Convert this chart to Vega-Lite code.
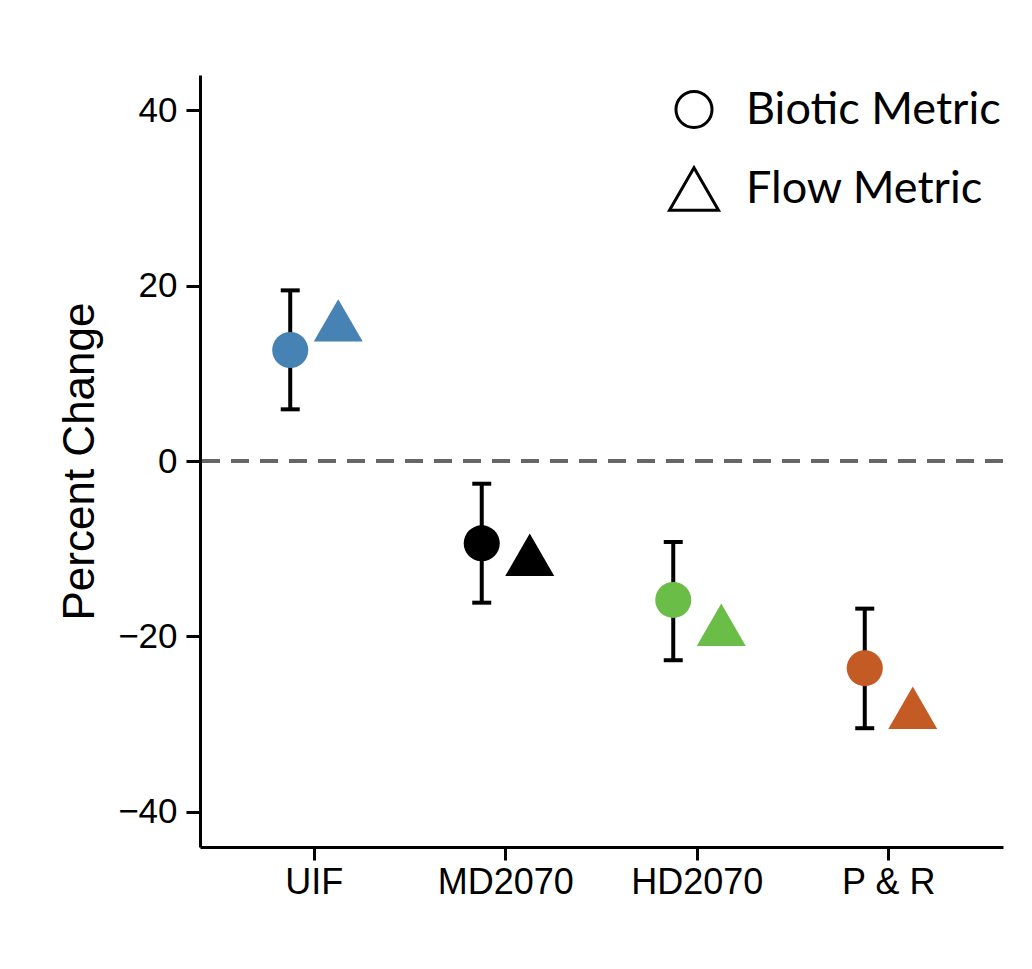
{
  "$schema": "https://vega.github.io/schema/vega-lite/v6.json",
  "width": 803,
  "height": 772,
  "autosize": {"type": "none"},
  "padding": {"left": 200, "top": 75, "right": 29, "bottom": 122},
  "background": "white",
  "config": {
    "view": {"stroke": null},
    "font": "Liberation Sans",
    "axis": {
      "domainColor": "black",
      "domainWidth": 3,
      "tickColor": "black",
      "tickWidth": 3,
      "grid": false,
      "labelColor": "black",
      "labelFont": "Liberation Sans",
      "titleColor": "black",
      "titleFont": "Liberation Sans",
      "titleFontWeight": "normal"
    },
    "legend": {
      "symbolFillColor": "transparent",
      "symbolStrokeColor": "black",
      "symbolStrokeWidth": 3,
      "labelLimit": 0
    }
  },
  "data": {
    "values": [
      {"scenario": "UIF", "metric": "Biotic Metric", "value": 12.65, "lower": 5.89, "upper": 19.45},
      {"scenario": "UIF", "metric": "Flow Metric", "value": 16.03},
      {"scenario": "MD2070", "metric": "Biotic Metric", "value": -9.38, "lower": -16.15, "upper": -2.59},
      {"scenario": "MD2070", "metric": "Flow Metric", "value": -10.68},
      {"scenario": "HD2070", "metric": "Biotic Metric", "value": -15.84, "lower": -22.71, "upper": -9.23},
      {"scenario": "HD2070", "metric": "Flow Metric", "value": -18.66},
      {"scenario": "P & R", "metric": "Biotic Metric", "value": -23.62, "lower": -30.46, "upper": -16.83},
      {"scenario": "P & R", "metric": "Flow Metric", "value": -28.13}
    ]
  },
  "layer": [
    {
      "mark": {"type": "rule", "strokeDash": [18, 11], "color": "#666666", "strokeWidth": 3},
      "encoding": {
        "y": {"datum": 0, "type": "quantitative",
          "scale": {"domain": [-44, 44], "nice": false, "zero": false},
          "axis": {"title": "Percent Change", "values": [-40, -20, 0, 20, 40], "labelFontSize": 35, "tickSize": 14, "labelPadding": 9, "titleFontSize": 44, "titlePadding": 15}
        }
      }
    },
    {
      "transform": [{"filter": "datum.metric === 'Biotic Metric'"}],
      "mark": {"type": "rule", "color": "black", "strokeWidth": 4},
      "encoding": {
        "x": {
          "field": "scenario", "type": "nominal",
          "sort": ["UIF", "MD2070", "HD2070", "P & R"],
          "scale": {"type": "band", "paddingInner": 0, "paddingOuter": 0.0965},
          "axis": {"title": null, "labelAngle": 0, "labelAlign": "center", "labelBaseline": "top", "labelFontSize": 36, "tickSize": 13, "labelPadding": 5}
        },
        "xOffset": {
          "field": "metric", "type": "nominal",
          "sort": ["Biotic Metric", "Flow Metric"],
          "scale": {"type": "point", "range": [71.75, 119.75], "padding": 0}
        },
        "y": {"field": "lower", "type": "quantitative"},
        "y2": {"field": "upper"}
      }
    },
    {
      "transform": [{"filter": "datum.metric === 'Biotic Metric'"}],
      "mark": {"type": "tick", "color": "black", "size": 19, "thickness": 4, "orient": "horizontal", "opacity": 1},
      "encoding": {
        "x": {
          "field": "scenario", "type": "nominal",
          "sort": ["UIF", "MD2070", "HD2070", "P & R"],
          "scale": {"type": "band", "paddingInner": 0, "paddingOuter": 0.0965},
          "axis": {"title": null, "labelAngle": 0, "labelAlign": "center", "labelBaseline": "top", "labelFontSize": 36, "tickSize": 13, "labelPadding": 5}
        },
        "xOffset": {
          "field": "metric", "type": "nominal",
          "sort": ["Biotic Metric", "Flow Metric"],
          "scale": {"type": "point", "range": [71.75, 119.75], "padding": 0}
        },
        "y": {"field": "lower", "type": "quantitative"}
      }
    },
    {
      "transform": [{"filter": "datum.metric === 'Biotic Metric'"}],
      "mark": {"type": "tick", "color": "black", "size": 19, "thickness": 4, "orient": "horizontal", "opacity": 1},
      "encoding": {
        "x": {
          "field": "scenario", "type": "nominal",
          "sort": ["UIF", "MD2070", "HD2070", "P & R"],
          "scale": {"type": "band", "paddingInner": 0, "paddingOuter": 0.0965},
          "axis": {"title": null, "labelAngle": 0, "labelAlign": "center", "labelBaseline": "top", "labelFontSize": 36, "tickSize": 13, "labelPadding": 5}
        },
        "xOffset": {
          "field": "metric", "type": "nominal",
          "sort": ["Biotic Metric", "Flow Metric"],
          "scale": {"type": "point", "range": [71.75, 119.75], "padding": 0}
        },
        "y": {"field": "upper", "type": "quantitative"}
      }
    },
    {
      "mark": {"type": "point", "filled": true, "opacity": 1, "strokeWidth": 0},
      "encoding": {
        "x": {
          "field": "scenario", "type": "nominal",
          "sort": ["UIF", "MD2070", "HD2070", "P & R"],
          "scale": {"type": "band", "paddingInner": 0, "paddingOuter": 0.0965},
          "axis": {"title": null, "labelAngle": 0, "labelAlign": "center", "labelBaseline": "top", "labelFontSize": 36, "tickSize": 13, "labelPadding": 5}
        },
        "xOffset": {
          "field": "metric", "type": "nominal",
          "sort": ["Biotic Metric", "Flow Metric"],
          "scale": {"type": "point", "range": [71.75, 119.75], "padding": 0}
        },
        "y": {"field": "value", "type": "quantitative"},
        "color": {
          "field": "scenario", "type": "nominal",
          "scale": {"domain": ["UIF", "MD2070", "HD2070", "P & R"], "range": ["#4682b4", "#000000", "#6abd47", "#c45a24"]},
          "legend": null
        },
        "shape": {
          "field": "metric", "type": "nominal",
          "scale": {"domain": ["Biotic Metric", "Flow Metric"], "range": ["circle", "triangle-up"]},
          "legend": {
            "title": null,
            "orient": "none",
            "legendX": 468,
            "legendY": 12,
            "padding": 0,
            "labelFont": "Lato",
            "labelFontSize": 45,
            "labelColor": "black",
            "labelOffset": 26,
            "labelLimit": 0,
            "rowPadding": 27,
            "symbolFillColor": "transparent",
            "symbolStrokeColor": "black",
            "symbolStrokeWidth": 3
          }
        },
        "size": {
          "field": "metric", "type": "nominal",
          "scale": {"domain": ["Biotic Metric", "Flow Metric"], "range": [1300, 2400]},
          "legend": {
            "title": null,
            "orient": "none",
            "legendX": 468,
            "legendY": 12,
            "padding": 0,
            "labelFont": "Lato",
            "labelFontSize": 45,
            "labelColor": "black",
            "labelOffset": 26,
            "labelLimit": 0,
            "rowPadding": 27,
            "symbolFillColor": "transparent",
            "symbolStrokeColor": "black",
            "symbolStrokeWidth": 3
          }
        }
      }
    }
  ]
}
